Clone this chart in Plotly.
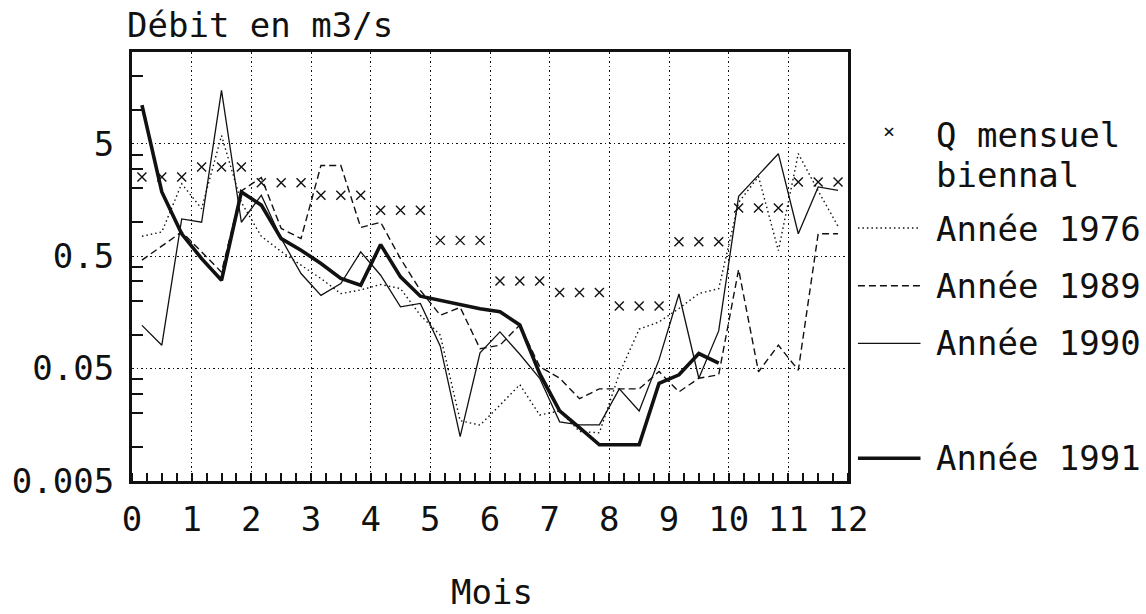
import plotly.graph_objects as go

# ---- data (10-day periods, x in months) ----
x_dec = [0.167, 0.5, 0.833, 1.167, 1.5, 1.833, 2.167, 2.5, 2.833,
         3.167, 3.5, 3.833, 4.167, 4.5, 4.833, 5.167, 5.5, 5.833,
         6.167, 6.5, 6.833, 7.167, 7.5, 7.833, 8.167, 8.5, 8.833,
         9.167, 9.5, 9.833, 10.167, 10.5, 10.833, 11.167, 11.5, 11.833]

q_biennal_month = [2.53, 3.1, 2.24, 1.74, 1.28, 0.69, 0.30, 0.237, 0.18, 0.67, 1.34, 2.28]

y1976 = [0.75, 0.82, 2.2, 1.32, 5.9, 1.5, 0.75, 0.55, 0.415, 0.316, 0.232, 0.25,
         0.28, 0.257, 0.149, 0.099, 0.0172, 0.0157, 0.0236, 0.036, 0.0193, 0.021, 0.0138, 0.0134,
         0.045, 0.112, 0.13, 0.171, 0.232, 0.257, 1.5, 2.55, 0.56, 4.07, 1.9, 0.92]

y1989 = [0.46, 0.62, 0.82, 0.545, 0.36, 1.9, 2.5, 0.88, 0.716, 3.2, 3.2, 0.9,
         1.0, 0.475, 0.248, 0.149, 0.175, 0.075, 0.0807, 0.122, 0.052, 0.041, 0.027, 0.033,
         0.033, 0.033, 0.047, 0.031, 0.041, 0.044, 0.38, 0.0468, 0.0807, 0.0483, 0.79, 0.79]

y1990 = [0.121, 0.0807, 1.07, 1.0, 14.9, 1.0, 1.74, 0.716, 0.35, 0.224, 0.285, 0.545,
         0.338, 0.177, 0.19, 0.079, 0.0124, 0.069, 0.106, 0.067, 0.041, 0.0168, 0.0158, 0.0158,
         0.033, 0.021, 0.06, 0.23, 0.041, 0.108, 1.7, 2.62, 4.07, 0.79, 2.06, 1.92]

y1991 = [11.0, 1.86, 0.79, 0.475, 0.305, 1.86, 1.42, 0.716, 0.564, 0.43, 0.316, 0.275,
         0.633, 0.327, 0.22, 0.203, 0.187, 0.17, 0.16, 0.122, 0.045, 0.021, 0.0149, 0.0105,
         0.0105, 0.0105, 0.037, 0.044, 0.068, 0.056]

x_ticks = list(range(13))
x_ticklabels = [str(v) for v in x_ticks]
y_ticks = [0.005, 0.05, 0.5, 5]
y_ticklabels = ["0.005", "0.05", "0.5", "5"]
y_minor = [0.01, 0.02, 0.03, 0.04, 0.1, 0.2, 0.3, 0.4, 1, 2, 3, 4, 10, 20]

legend_labels = ["Année 1976", "Année 1989", "Année 1990", "Année 1991"]

q_biennal = [v for v in q_biennal_month for _ in range(3)]

FONT = "DejaVu Sans Mono"
FS = 34
INK = "#111111"

fig = go.Figure()
fig.add_trace(go.Scatter(x=x_dec, y=q_biennal, mode="markers",
                         marker=dict(symbol="x-thin", size=9, line=dict(width=1.4, color=INK), color=INK),
                         showlegend=False))
fig.add_trace(go.Scatter(x=x_dec, y=y1976, mode="lines",
                         line=dict(color=INK, width=1.4, dash="1.5px,3px"), showlegend=False))
fig.add_trace(go.Scatter(x=x_dec, y=y1989, mode="lines",
                         line=dict(color=INK, width=1.4, dash="7px,4px"), showlegend=False))
fig.add_trace(go.Scatter(x=x_dec, y=y1990, mode="lines",
                         line=dict(color=INK, width=1.3), showlegend=False))
fig.add_trace(go.Scatter(x=x_dec[:len(y1991)], y=y1991, mode="lines",
                         line=dict(color=INK, width=3.6), showlegend=False))

L, R, T, B = 127, 1146 - 848, 52, 614 - 481
pw, ph = 1146 - L - R, 614 - T - B


def px2paper_x(px):
    return (px - L) / pw


def px2paper_y(py):
    return (T + ph - py) / ph


shapes = []
annotations = []
# legend samples
leg_rows = [(228, dict(width=1.4, dash="1.5px,3px")),
            (285.7, dict(width=1.4, dash="7px,4px")),
            (343.3, dict(width=1.3)),
            (458.3, dict(width=3.6))]
leg_text_y = [229, 286, 343, 458]
for (py, ln), lab, ty in zip(leg_rows, legend_labels, leg_text_y):
    shapes.append(dict(type="line", xref="paper", yref="paper",
                       x0=px2paper_x(858), x1=px2paper_x(921),
                       y0=px2paper_y(py), y1=px2paper_y(py),
                       line=dict(color=INK, **ln)))
    annotations.append(dict(text=lab, xref="paper", yref="paper",
                            x=px2paper_x(935), y=px2paper_y(ty),
                            xanchor="left", yanchor="middle", showarrow=False,
                            font=dict(family=FONT, size=FS, color=INK)))
annotations.append(dict(text="×", xref="paper", yref="paper",
                        x=px2paper_x(889), y=px2paper_y(131), xanchor="center", yanchor="middle",
                        showarrow=False, font=dict(family=FONT, size=20, color=INK)))
annotations.append(dict(text="Q mensuel", xref="paper", yref="paper",
                        x=px2paper_x(935), y=px2paper_y(135), xanchor="left", yanchor="middle",
                        showarrow=False, font=dict(family=FONT, size=FS, color=INK)))
annotations.append(dict(text="biennal", xref="paper", yref="paper",
                        x=px2paper_x(935), y=px2paper_y(175), xanchor="left", yanchor="middle",
                        showarrow=False, font=dict(family=FONT, size=FS, color=INK)))
annotations.append(dict(text="Débit en m3/s", xref="paper", yref="paper",
                        x=px2paper_x(120), y=px2paper_y(25), xanchor="left", yanchor="middle",
                        showarrow=False, font=dict(family=FONT, size=FS, color=INK)))
annotations.append(dict(text="Mois", xref="paper", yref="paper",
                        x=px2paper_x(490), y=px2paper_y(592), xanchor="center", yanchor="middle",
                        showarrow=False, font=dict(family=FONT, size=FS, color=INK)))

fig.update_layout(
    width=1146, height=614,
    margin=dict(l=L, r=R, t=T, b=B),
    paper_bgcolor="white", plot_bgcolor="white",
    font=dict(family=FONT, size=FS, color=INK),
    shapes=shapes, annotations=annotations,
    showlegend=False,
)
fig.update_xaxes(
    range=[0, 12], tickmode="array", tickvals=x_ticks, ticktext=x_ticklabels,
    showgrid=True, gridcolor=INK, gridwidth=1.4, griddash="1.5px,3px",
    showline=True, linecolor=INK, linewidth=3, mirror=True,
    ticks="", ticklabelstandoff=6, zeroline=False,
    minor=dict(tickmode="linear", tick0=0, dtick=0.25, ticks="inside", ticklen=8,
               tickwidth=1.5, tickcolor=INK, showgrid=False),
    tickfont=dict(family=FONT, size=FS, color=INK),
)
fig.update_yaxes(
    type="log", range=[-2.301, 1.514], tickmode="array", tickvals=y_ticks, ticktext=y_ticklabels,
    showgrid=True, gridcolor=INK, gridwidth=1.4, griddash="1.5px,3px",
    showline=True, linecolor=INK, linewidth=3, mirror=True,
    ticks="", ticklabelstandoff=8, zeroline=False,
    minor=dict(tickmode="array", tickvals=y_minor, ticks="inside", ticklen=11,
               tickwidth=1.5, tickcolor=INK, showgrid=False),
    tickfont=dict(family=FONT, size=FS, color=INK),
)

fig.write_html("out.html")
